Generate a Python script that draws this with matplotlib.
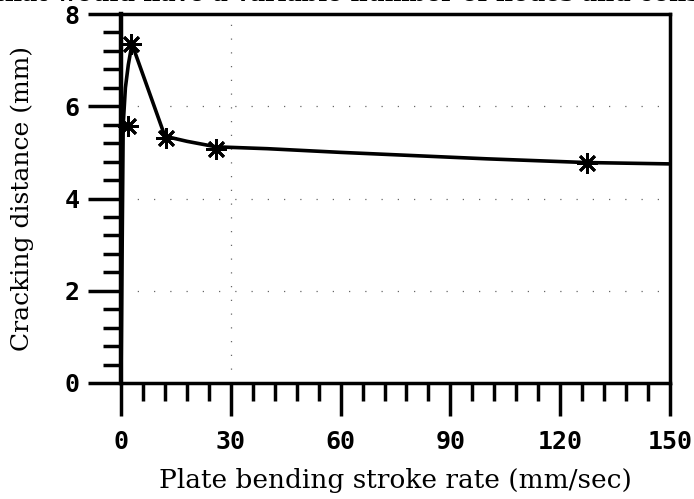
import matplotlib
matplotlib.use("Agg")
import matplotlib.pyplot as plt
from matplotlib.ticker import MultipleLocator

# Data
line_x = [0, 0.6, 1.2, 2.0, 3.0, 7.5, 12.0, 18.0, 26.0, 40.0, 60.0, 80.0, 100.0, 127.0, 150.0]
line_y = [0.0, 5.6, 6.4, 6.9, 7.35, 6.35, 5.35, 5.24, 5.12, 5.08, 5.0, 4.93, 4.86, 4.78, 4.75]
mark_x = [1.8, 2.8, 12.3, 26.0, 127.4]
mark_y = [5.57, 7.35, 5.32, 5.08, 4.77]
xticks = [0, 30, 60, 90, 120, 150]
yticks = [0, 2, 4, 6, 8]

fig = plt.figure(figsize=(6.94, 4.99), dpi=100)
ax = fig.add_axes([121/694, 1-383/499, (670-121)/694, (383-14)/499])

ax.plot(line_x, line_y, color="black", lw=2.6, solid_joinstyle="miter", zorder=3)
ax.plot(mark_x, mark_y, linestyle="none", marker=(8, 2, 0), markersize=15,
        mew=2.0, color="black", zorder=4, clip_on=False)

# sparse dotted grid
for gy in [2, 4, 6]:
    ax.axhline(gy, color="black", lw=0.9, linestyle=(0, (1, 12)), alpha=0.6, zorder=1)
ax.axvline(30, color="black", lw=0.9, linestyle=(0, (1, 10)), alpha=0.6, zorder=1)

ax.set_xlim(0, 150)
ax.set_ylim(0, 8)
ax.set_xticks(xticks)
ax.set_yticks(yticks)
ax.xaxis.set_minor_locator(MultipleLocator(6))
ax.yaxis.set_minor_locator(MultipleLocator(0.4))
ax.tick_params(axis="both", which="major", direction="out", length=24, width=2.5,
               labelsize=18)
ax.tick_params(axis="x", which="major", pad=10)
ax.tick_params(axis="y", which="major", pad=6)
ax.tick_params(axis="both", which="minor", direction="out", length=13, width=2.5)

for lab in ax.get_xticklabels() + ax.get_yticklabels():
    lab.set_family("DejaVu Sans Mono")
    lab.set_fontweight("bold")

for s in ax.spines.values():
    s.set_linewidth(2.5)
ax.spines["left"].set_linewidth(3.2)

ax.set_xlabel("Plate bending stroke rate (mm/sec)", family="DejaVu Serif",
              fontsize=19, labelpad=10)
ax.set_ylabel("Cracking distance (mm)", family="DejaVu Serif", fontsize=18, labelpad=22)

fig.text(0.5, 1.012, "that would have a variable number of nodes and cons",
         ha="center", va="center", family="DejaVu Serif", fontsize=17, fontweight="bold")

fig.savefig("out.png", dpi=100)
